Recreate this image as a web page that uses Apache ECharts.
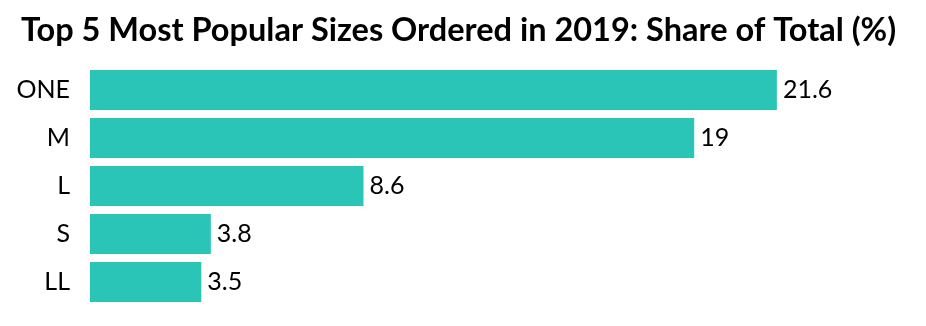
<!DOCTYPE html>
<html><head><meta charset="utf-8">
<script src="https://cdn.jsdelivr.net/npm/echarts@6/dist/echarts.min.js"></script>
<style>html,body{margin:0;padding:0;background:#fff}#c{width:926px;height:326px}</style>
</head><body><div id="c"></div>
<script>
const categories = ["ONE", "M", "L", "S", "LL"];
const values = [21.6, 19, 8.6, 3.8, 3.5];
const titleText = "Top 5 Most Popular Sizes Ordered in 2019: Share of Total (%)";

const chart = echarts.init(document.getElementById('c'));
chart.setOption({
  animation: false,
  title: {
    text: titleText, left: 16, top: 9,
    textStyle: {fontFamily: 'Lato', fontSize: 32.5, fontWeight: 'bold', color: '#000'}
  },
  grid: {left: 90, right: 41, top: 66, bottom: 20, containLabel: false},
  xAxis: {type: 'value', min: 0, max: 25, show: false},
  yAxis: {
    type: 'category', data: categories, inverse: true,
    axisLine: {show: false}, axisTick: {show: false},
    axisLabel: {margin: 20, fontFamily: 'Lato', fontSize: 25, color: '#000'}
  },
  series: [{
    type: 'bar', data: values, barWidth: 40,
    itemStyle: {color: '#2bc5b8'},
    label: {show: true, position: 'right', distance: 6, fontFamily: 'Lato', fontSize: 25, color: '#000'}
  }]
});
</script></body></html>
